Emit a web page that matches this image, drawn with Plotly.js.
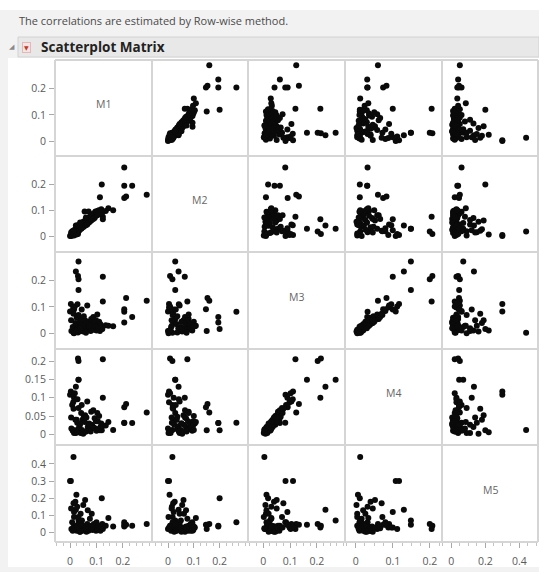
<!DOCTYPE html>
<html><head><meta charset="utf-8">
<script src="https://cdn.plot.ly/plotly-3.0.1.min.js"></script>
<style>html,body{margin:0;padding:0;background:#fff;}#chart{width:539px;height:572px;}</style>
</head><body><div id="chart"></div>
<script>
// ---- data (one entry per observation) ----
const varNames = ['M1','M2','M3','M4','M5'];
const M1 = [0.290,0.205,0.120,0.205,0.235,0.113,0.205,0.212,0.124,0.124,0.032,0.022,0.030,0.032,0.032,0.000,0.003,0.013,
  0.005,0.010,0.012,0.015,0.018,0.020,0.022,0.025,0.027,0.030,0.032,0.035,0.037,0.040,0.042,0.045,0.047,0.050,0.052,0.055,
  0.057,0.060,0.062,0.065,0.067,0.070,0.072,0.075,0.078,0.080,0.082,0.085,0.088,0.090,0.093,0.096,0.098,0.100,0.103,0.105,
  0.108,0.110,0.115,0.118,0.122,0.135,0.145,0.163,0.008,0.015,0.028,0.004,0.024,0.038,0.013,0.060,0.044];
const M2 = [0.160,0.265,0.200,0.195,0.195,0.150,0.147,0.153,0.075,0.065,0.028,0.041,0.008,0.017,0.028,0.000,0.004,0.017,
  0.000,0.012,0.004,0.022,0.008,0.026,0.010,0.030,0.015,0.036,0.018,0.040,0.024,0.045,0.028,0.050,0.034,0.055,0.036,0.095,
  0.060,0.042,0.066,0.045,0.070,0.095,0.052,0.075,0.058,0.080,0.062,0.084,0.066,0.088,0.070,0.095,0.078,0.094,0.080,0.098,
  0.084,0.100,0.088,0.104,0.092,0.097,0.108,0.100,0.018,0.002,0.042,0.014,0.006,0.052,0.020,0.072,0.030];
const M3 = [0.123,0.082,0.018,0.042,0.062,0.010,0.091,0.133,0.120,0.213,0.270,0.232,0.215,0.203,0.163,0.083,0.111,0.004,
  0.010,0.025,0.098,0.090,0.102,0.040,0.015,0.060,0.030,0.005,0.070,0.020,0.045,0.010,0.055,0.025,0.035,0.008,0.065,0.030,
  0.050,0.015,0.040,0.105,0.012,0.025,0.045,0.030,0.010,0.055,0.020,0.035,0.062,0.015,0.040,0.028,0.050,0.012,0.072,0.030,
  0.022,0.045,0.035,0.028,0.018,0.032,0.030,0.028,0.085,0.002,0.110,0.050,0.012,0.020,0.075,0.004,0.090];
const M4 = [0.060,0.032,0.011,0.031,0.031,0.011,0.074,0.083,0.205,0.100,0.149,0.130,0.207,0.200,0.149,0.108,0.117,0.012,
  0.016,0.010,0.088,0.100,0.112,0.040,0.004,0.040,0.032,0.014,0.072,0.022,0.026,0.004,0.058,0.012,0.040,0.002,0.048,0.034,
  0.052,0.008,0.046,0.090,0.020,0.028,0.030,0.016,0.008,0.062,0.026,0.022,0.066,0.018,0.044,0.016,0.036,0.010,0.058,0.036,
  0.014,0.050,0.020,0.030,0.022,0.024,0.034,0.012,0.080,0.004,0.096,0.046,0.006,0.030,0.070,0.008,0.080];
const M5 = [0.050,0.060,0.200,0.035,0.040,0.020,0.045,0.045,0.020,0.030,0.070,0.133,0.040,0.050,0.046,0.300,0.300,0.440,
  0.020,0.010,0.030,0.120,0.020,0.180,0.040,0.010,0.150,0.020,0.090,0.030,0.005,0.110,0.020,0.070,0.010,0.160,0.030,0.020,
  0.190,0.040,0.005,0.050,0.130,0.010,0.030,0.080,0.020,0.040,0.110,0.015,0.025,0.050,0.035,0.020,0.010,0.060,0.030,0.015,
  0.040,0.025,0.010,0.030,0.050,0.040,0.085,0.035,0.060,0.090,0.030,0.140,0.220,0.005,0.170,0.025,0.045];
const dataByVar = {M1, M2, M3, M4, M5};

// axis ranges, ticks
const axisRange = {M1:[-0.057,0.31], M2:[-0.062,0.31], M3:[-0.057,0.305], M4:[-0.029,0.233], M5:[-0.055,0.51]};
const yTickVals = {M1:[0,0.1,0.2], M2:[0,0.1,0.2], M3:[0,0.1,0.2], M4:[0,0.05,0.1,0.15,0.2], M5:[0,0.1,0.2,0.3,0.4]};
const yTickText = {M1:['0','0.1','0.2'], M2:['0','0.1','0.2'], M3:['0','0.1','0.2'], M4:['0','0.05','0.1','0.15','0.2'], M5:['0','0.1','0.2','0.3','0.4']};
const xTickVals = {M1:[0,0.1,0.2], M2:[0,0.1,0.2], M3:[0,0.1,0.2], M4:[0,0.1,0.2], M5:[0,0.2,0.4]};
const xTickText = {M1:['0','0.1','0.2'], M2:['0','0.1','0.2'], M3:['0','0.1','0.2'], M4:['0','0.1','0.2'], M5:['0','0.2','0.4']};
const xMinorStep = {M1:0.025, M2:0.025, M3:0.025, M4:0.025, M5:0.05};

const headerNote = 'The correlations are estimated by Row-wise method.';
const headerTitle = 'Scatterplot Matrix';

// ---- layout geometry (pixels) ----
const W = 539, H = 572;
const colEdges = [55, 152, 248, 345, 442, 538];
const rowEdges = [60, 156, 252, 349, 445, 542];
const px = v => v / W;
const py = v => 1 - v / H;
const FONT = 'Open Sans, Noto Sans, sans-serif';

const traces = [];
const layout = {
  width: W, height: H,
  margin: {l:0, r:0, t:0, b:0},
  paper_bgcolor: '#ffffff', plot_bgcolor: 'rgba(0,0,0,0)',
  showlegend: false,
  font: {family: FONT, color: '#555'},
  shapes: [], annotations: []
};

const n = varNames.length;
for (let i = 0; i < n; i++) {
  for (let j = 0; j < n; j++) {
    const k = i * n + j + 1;
    const sx = k === 1 ? '' : String(k);
    const xv = varNames[j], yv = varNames[i];
    const xa = {
      domain: [px(colEdges[j]), px(colEdges[j + 1])],
      range: axisRange[xv], anchor: 'y' + sx,
      showgrid: false, zeroline: false, showline: false, fixedrange: true,
      showticklabels: false, ticks: ''
    };
    const ya = {
      domain: [py(rowEdges[i + 1]), py(rowEdges[i])],
      range: axisRange[yv], anchor: 'x' + sx,
      showgrid: false, zeroline: false, showline: false, fixedrange: true,
      showticklabels: false, ticks: ''
    };
    if (i === n - 1) {
      Object.assign(xa, {
        showticklabels: true, ticks: 'outside', ticklen: 5, tickwidth: 1, tickcolor: '#a8a8a8',
        tickmode: 'array', tickvals: xTickVals[xv], ticktext: xTickText[xv], ticklabelstandoff: 4,
        tickfont: {family: FONT, size: 10.5, color: '#5a5a5a'},
        minor: {ticks: 'outside', ticklen: 3, tickwidth: 1, tickcolor: '#c4c4c4', dtick: xMinorStep[xv], tick0: 0}
      });
    }
    if (j === 0) {
      Object.assign(ya, {
        showticklabels: true, ticks: 'outside', ticklen: 5, tickwidth: 1, tickcolor: '#a8a8a8',
        tickmode: 'array', tickvals: yTickVals[yv], ticktext: yTickText[yv], ticklabelstandoff: 1,
        tickfont: {family: FONT, size: 10.5, color: '#5a5a5a'}
      });
    }
    layout['xaxis' + sx] = xa;
    layout['yaxis' + sx] = ya;
    if (i === j) {
      traces.push({type: 'scatter', mode: 'markers', x: [], y: [], xaxis: 'x' + sx, yaxis: 'y' + sx, hoverinfo: 'skip'});
      layout.annotations.push({
        xref: 'paper', yref: 'paper',
        x: px((colEdges[j] + colEdges[j + 1]) / 2), y: py((rowEdges[i] + rowEdges[i + 1]) / 2 - 4),
        text: varNames[i], showarrow: false, xanchor: 'center', yanchor: 'middle',
        font: {family: FONT, size: 10.5, color: '#666'}
      });
    } else {
      traces.push({
        type: 'scatter', mode: 'markers',
        x: dataByVar[xv], y: dataByVar[yv],
        xaxis: 'x' + sx, yaxis: 'y' + sx,
        marker: {size: 6, color: '#0a0a0a', line: {width: 0}},
        hoverinfo: 'x+y'
      });
    }
  }
}

// ---- background / frame shapes ----
layout.shapes.push(
  {type:'rect', xref:'paper', yref:'paper', x0:px(0), x1:px(W), y0:py(H), y1:py(10), fillcolor:'#f2f2f2', line:{width:0}, layer:'below'},
  {type:'rect', xref:'paper', yref:'paper', x0:px(18), x1:px(W), y0:py(57), y1:py(37), fillcolor:'#e8e8e8', line:{width:1, color:'#d2d2d2'}, layer:'below'},
  {type:'rect', xref:'paper', yref:'paper', x0:px(8), x1:px(W), y0:py(567), y1:py(58), fillcolor:'#ffffff', line:{width:0}, layer:'below'}
);
// panel borders
for (const cx of colEdges) {
  layout.shapes.push({type:'line', xref:'paper', yref:'paper', x0:px(cx), x1:px(cx), y0:py(rowEdges[0]), y1:py(rowEdges[n]), line:{color:'#d5d5d5', width:2}, layer:'below'});
}
for (const ry of rowEdges) {
  layout.shapes.push({type:'line', xref:'paper', yref:'paper', x0:px(colEdges[0]), x1:px(colEdges[n]), y0:py(ry), y1:py(ry), line:{color:'#d5d5d5', width:2}, layer:'below'});
}

// ---- header texts ----
layout.annotations.push(
  {xref:'paper', yref:'paper', x:px(17), y:py(21), xanchor:'left', yanchor:'middle', showarrow:false,
   text: headerNote, font:{family:FONT, size:11, color:'#4a4a4a'}},
  {xref:'paper', yref:'paper', x:px(7), y:py(47), xanchor:'left', yanchor:'middle', showarrow:false,
   text:'◢', font:{family:'DejaVu Sans', size:7, color:'#8a8a8a'}},
  {xref:'paper', yref:'paper', x:px(22), y:py(47), xanchor:'left', yanchor:'middle', showarrow:false,
   text:'▼', font:{family:'DejaVu Sans', size:6, color:'#c0392b'}, bgcolor:'#f6e3e3', bordercolor:'#e2b8b8', borderwidth:1, borderpad:1},
  {xref:'paper', yref:'paper', x:px(39), y:py(47), xanchor:'left', yanchor:'middle', showarrow:false,
   text:'<b>' + headerTitle + '</b>', font:{family:FONT, size:13.5, color:'#222'}}
);

Plotly.newPlot('chart', traces, layout, {staticPlot: true, displayModeBar: false});
</script></body></html>
